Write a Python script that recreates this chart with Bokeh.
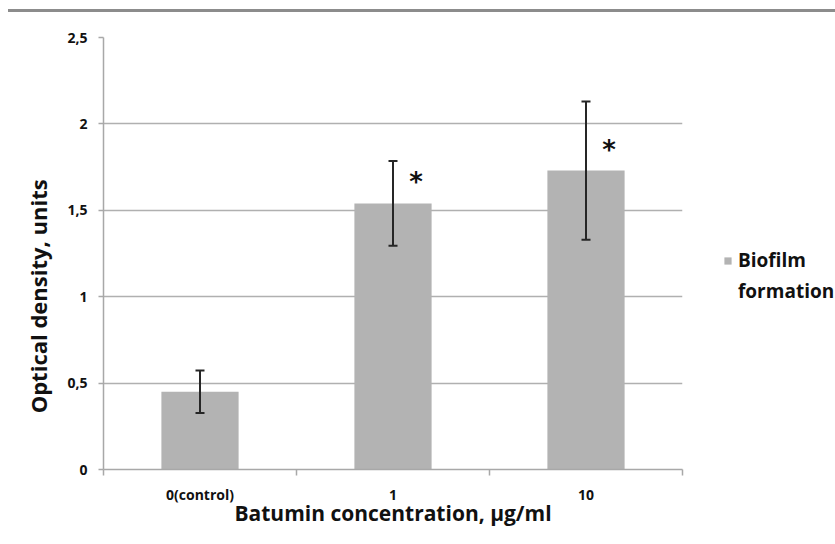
from bokeh.plotting import figure
from bokeh.models import (ColumnDataSource, FixedTicker, Legend, LegendItem, Whisker,
                          TeeHead, Range1d, Div)
from bokeh.layouts import column
from bokeh.core.properties import value
from bokeh.embed import file_html
from bokeh.resources import INLINE

categories = ["0(control)", "1", "10"]
biofilm = [0.45, 1.54, 1.73]
errors = [0.123, 0.245, 0.40]
significance = ["", "*", "*"]
y_ticks = [0, 0.5, 1, 1.5, 2, 2.5]
y_tick_labels = ["0", "0,5", "1", "1,5", "2", "2,5"]
series_lines = ["Biofilm", "formation"]
y_title = "Optical density, units"
x_title = "Batumin concentration, \u00b5g/ml"

FONT = "Open Sans"
TXT = "#111111"
x_pos = [i + 0.5 for i in range(len(categories))]
src = ColumnDataSource(dict(
    x=x_pos, top=biofilm,
    upper=[v + e for v, e in zip(biofilm, errors)],
    lower=[v - e for v, e in zip(biofilm, errors)],
    sig=significance,
))

p = figure(frame_width=579, frame_height=432, min_border_left=103, min_border_right=153,
           min_border_top=25, min_border_bottom=70,
           x_range=Range1d(0, len(categories)), y_range=Range1d(0, 2.5),
           output_backend="svg", toolbar_location=None, margin=0)
p.outline_line_color = None
p.background_fill_color = "white"
p.border_fill_color = "white"

bars = p.vbar(x="x", top="top", width=0.40, source=src,
              fill_color="#b3b3b3", line_color=None)
blank = p.vbar(x=[], top=[], width=0.4, fill_alpha=0, line_alpha=0)

whisk = Whisker(base="x", upper="upper", lower="lower", source=src,
                line_color="#262626", line_width=2, level="overlay",
                upper_head=TeeHead(size=9, line_color="#262626", line_width=2),
                lower_head=TeeHead(size=9, line_color="#262626", line_width=2))
p.add_layout(whisk)

p.text(x="x", y="top", text="sig", source=src, x_offset=23, y_offset=-21,
       text_font=value("DejaVu Sans"), text_font_style="bold", text_font_size="26px",
       text_align="center", text_baseline="middle", text_color="#111111")

# grid
p.xgrid.visible = False
p.ygrid.ticker = FixedTicker(ticks=y_ticks[1:])
p.ygrid.grid_line_color = "#b0b0b0"
p.ygrid.grid_line_width = 1.5

# y axis
ya = p.yaxis[0]
ya.ticker = FixedTicker(ticks=y_ticks)
ya.major_label_overrides = {t: l for t, l in zip(y_ticks, y_tick_labels)}
ya.axis_line_color = "#a8a8a8"
ya.axis_line_width = 1.5
ya.major_tick_line_color = "#a8a8a8"
ya.major_tick_line_width = 1.5
ya.major_tick_in = 0
ya.major_tick_out = 5
ya.minor_tick_line_color = None
ya.major_label_standoff = 11
ya.major_label_text_font = FONT
ya.major_label_text_font_style = "bold"
ya.major_label_text_font_size = "14px"
ya.major_label_text_color = TXT
# trailing no-break spaces shift the visible title down, as in the original
ya.axis_label = y_title + "\u00a0" * 15
ya.axis_label_text_font = FONT
ya.axis_label_text_font_style = "bold"
ya.axis_label_text_font_size = "22px"
ya.axis_label_text_color = TXT
ya.axis_label_standoff = 11

# x axis
xa = p.xaxis[0]
xa.ticker = FixedTicker(ticks=x_pos, minor_ticks=list(range(len(categories) + 1)))
xa.major_label_overrides = {x: c for x, c in zip(x_pos, categories)}
xa.axis_line_color = "#a8a8a8"
xa.axis_line_width = 1.5
xa.major_tick_line_color = None
xa.minor_tick_line_color = "#a8a8a8"
xa.minor_tick_line_width = 1.5
xa.minor_tick_in = 0
xa.minor_tick_out = 6
xa.major_label_standoff = 9
xa.major_label_text_font = FONT
xa.major_label_text_font_style = "bold"
xa.major_label_text_font_size = "14px"
xa.major_label_text_color = TXT
xa.axis_label = x_title
xa.axis_label_text_font = FONT
xa.axis_label_text_font_style = "bold"
xa.axis_label_text_font_size = "21px"
xa.axis_label_text_color = TXT
xa.axis_label_standoff = -8

legend = Legend(items=[LegendItem(label=series_lines[0], renderers=[bars]),
                       LegendItem(label=series_lines[1], renderers=[blank])],
                location=(41, 165), border_line_color=None, background_fill_alpha=0,
                glyph_width=9, glyph_height=9, label_standoff=6,
                label_height=24, spacing=5,
                label_text_font=FONT, label_text_font_style="bold",
                label_text_font_size="19px", label_text_color=TXT,
                padding=0, margin=0)
p.add_layout(legend, "right")

top_rule = Div(width=827, height=3, margin=(9, 0, 0, 8),
               styles={"background-color": "#8c8c8c"})
layout = column(top_rule, p, spacing=0)

open("out.html", "w").write(file_html(layout, INLINE))
